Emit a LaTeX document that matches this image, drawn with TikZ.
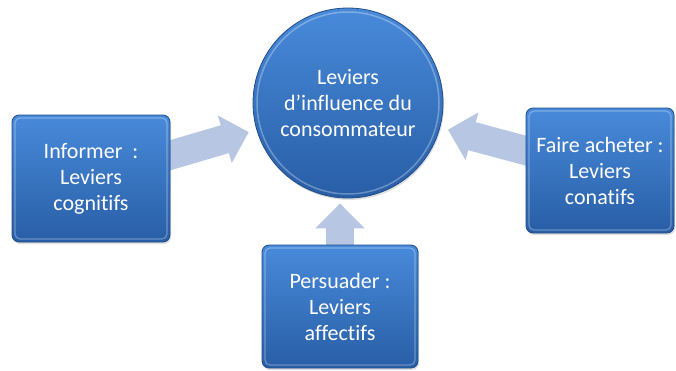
\documentclass[tikz,border=0pt]{standalone}
\usepackage{fontspec}
\setmainfont{Carlito}[Ligatures=NoCommon]
\usepackage{xcolor}
\usepackage{tikz}
\usetikzlibrary{arrows.meta}
\usetikzlibrary{shadows}
\pgfdeclarelayer{background}
\pgfsetlayers{background,main}
\definecolor{lever_top}{RGB}{72,138,218}
\definecolor{lever_bottom}{RGB}{40,94,166}
\definecolor{lever_edge}{RGB}{34,76,136}
\definecolor{arrow_fill}{RGB}{183,198,226}
\tikzset{ lever_text/.style = {text=white, align=center, font=\fontsize{22}{26}\selectfont} }
\tikzset{ lever_box/.style = {rectangle, rounded corners=7pt, draw=lever_edge, line width=0.8pt, top color=lever_top, bottom color=lever_bottom, lever_text, drop shadow={opacity=0.25, shadow xshift=1pt, shadow yshift=-2pt}, path picture={\draw[white, opacity=0.3, line width=1.2pt, rounded corners=5pt] ([shift={(3pt,-3pt)}]path picture bounding box.north west) rectangle ([shift={(-3pt,3pt)}]path picture bounding box.south east);}} }
\tikzset{ centre_disc/.style = {circle, draw=lever_edge, line width=0.8pt, top color=lever_top, bottom color=lever_bottom, lever_text, minimum size=190pt, drop shadow={opacity=0.25, shadow xshift=1pt, shadow yshift=-2pt}, path picture={\draw[white, opacity=0.3, line width=1.5pt] (path picture bounding box.center) circle (91pt);}} }
\tikzset{ block_arrow/.style = {draw=arrow_fill, line width=29pt, -{Triangle[width=48pt,length=25pt]}, shorten >=8pt} }

\begin{document}
\begin{tikzpicture}[x=1pt,y=-1pt]
                        \useasboundingbox (0,0) rectangle (676,370);
                        \node[centre_disc] (centre) at (348, 103) {Leviers\\d’influence du\\consommateur};
                        \node[lever_box, minimum width=158pt, minimum height=127pt] (cognitif) at (91, 178.5) {Informer~~:\\Leviers\\cognitifs};
                        \node[lever_box, minimum width=156pt, minimum height=123pt] (affectif) at (340, 306.5) {Persuader :\\Leviers\\affectifs};
                        \node[lever_box, minimum width=148pt, minimum height=125pt] (conatif) at (600, 170.5) {Faire acheter :\\Leviers\\conatifs};
                        \begin{pgfonlayer}{background}
                        \draw[block_arrow] (cognitif.center) to (centre);
                        \draw[block_arrow] (conatif.center) to (centre);
                        \draw[block_arrow, line width=28pt, shorten >=5pt] (affectif.center) to (affectif.center |- centre.south);
                        \end{pgfonlayer}
                \end{tikzpicture}
\end{document}
